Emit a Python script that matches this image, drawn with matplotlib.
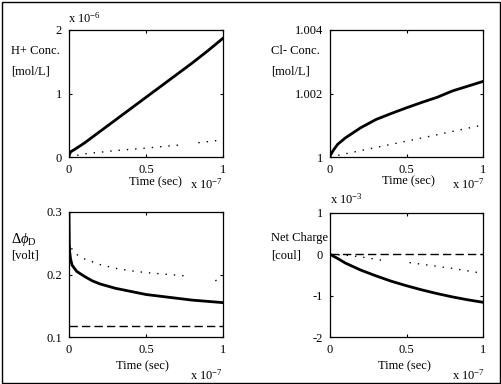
import numpy as np
import matplotlib
matplotlib.use("Agg")
import matplotlib.pyplot as plt
from matplotlib.patches import Rectangle

plt.rcParams["font.family"] = ["Liberation Serif", "DejaVu Serif"]
plt.rcParams["mathtext.fontset"] = "custom"
plt.rcParams["mathtext.rm"] = "Liberation Serif"
plt.rcParams["mathtext.it"] = "Liberation Serif:italic"
plt.rcParams["font.size"] = 9

# time in units of 1e-7 s
t_h = [0, 0.01, 0.05, 0.1, 0.2, 0.3, 0.4, 0.5, 0.6, 0.7, 0.8, 0.9, 1.0]
h_solid = [0.02, 0.08, 0.14, 0.22, 0.40, 0.58, 0.76, 0.94, 1.12, 1.30, 1.48, 1.67, 1.87]  # x 1e-6
t_h_dot = [0, 0.1, 0.3, 0.5, 0.72, 0.78, 0.84, 1.0]
h_dot = [0, 0.05, 0.10, 0.14, 0.19, np.nan, 0.225, 0.27]

t_cl = [0, 0.02, 0.05, 0.1, 0.2, 0.3, 0.4, 0.5, 0.6, 0.7, 0.8, 0.9, 1.0]
cl_solid = [1.00003, 1.0002, 1.0004, 1.0006, 1.00092, 1.00118, 1.00137, 1.00155,
            1.00172, 1.00188, 1.00208, 1.00223, 1.00238]
t_cl_dot = [0, 0.1, 0.3, 0.5, 0.7, 1.0]
cl_dot = [1.0, 1.0001, 1.0003, 1.0005, 1.0007, 1.00101]

t_phi = [0, 0.002, 0.005, 0.01, 0.02, 0.05, 0.1, 0.15, 0.2, 0.3, 0.4, 0.5,
         0.6, 0.7, 0.8, 0.9, 1.0]
phi_solid = [0.30, 0.25, 0.235, 0.225, 0.215, 0.205, 0.197, 0.190, 0.185, 0.178,
             0.173, 0.168, 0.165, 0.162, 0.159, 0.157, 0.155]
t_phi_dot = [0.003, 0.02, 0.05, 0.1, 0.2, 0.3, 0.4, 0.5, 0.6, 0.75, 0.85, 0.95, 1.0]
phi_dot = [0.255, 0.24, 0.232, 0.225, 0.216, 0.21, 0.206, 0.203, 0.201, 0.198,
           np.nan, 0.19, 0.195]
t_phi_dash = [0, 1.0]
phi_dash = [0.118, 0.118]

t_q = [0, 0.05, 0.1, 0.2, 0.3, 0.4, 0.5, 0.6, 0.7, 0.8, 0.9, 1.0]
q_solid = [0, -0.1, -0.21, -0.38, -0.52, -0.65, -0.76, -0.86, -0.95, -1.03, -1.1, -1.16]  # x 1e-3
t_q_dot = [0, 0.05, 0.1, 0.2, 0.3, 0.37, 0.45, 0.52, 0.6, 0.7, 0.8, 0.9, 1.0]
q_dot = [0, -0.01, -0.02, -0.06, -0.12, -0.16, np.nan, -0.2, -0.24, -0.29, -0.34, -0.4, -0.46]
t_q_dash = [0, 1.0]
q_dash = [0, 0]

W, H = 501, 384
fig = plt.figure(figsize=(W / 100, H / 100), dpi=100)


def box(x0, y0, x1, y1):
    return [x0 / W, 1 - y1 / H, (x1 - x0) / W, (y1 - y0) / H]


def txt(x, y, s, **kw):
    fig.text(x / W, 1 - y / H, s, va="center", **kw)


dot = (0, (1, 5))
dash = (0, (6, 3))

panels = [
    (box(69, 30, 223, 157), (0, 2), [0, 1, 2], ["0", "1", "2"]),
    (box(330, 30, 483, 157), (1, 1.004), [1, 1.002, 1.004], ["1", "1.002", "1.004"]),
    (box(69, 212, 223, 337), (0.1, 0.3), [0.1, 0.2, 0.3], ["0.1", "0.2", "0.3"]),
    (box(330, 213, 483, 337), (-2, 1), [-2, -1, 0, 1], ["-2", "-1", "0", "1"]),
]
axes = []
for rect, ylim, yt, ytl in panels:
    ax = fig.add_axes(rect)
    ax.set_xlim(0, 1)
    ax.set_ylim(*ylim)
    ax.set_xticks([0, 0.5, 1])
    ax.set_xticklabels(["0", "0.5", "1"])
    ax.set_yticks(yt)
    ax.set_yticklabels(ytl)
    ax.tick_params(direction="in", top=True, right=True, length=2.5, width=0.8, pad=5)
    for sp in ax.spines.values():
        sp.set_linewidth(0.9)
    axes.append(ax)

a1, a2, a3, a4 = axes
a1.plot(t_h, h_solid, color="black", lw=2)
a1.plot(t_h_dot, h_dot, color="black", lw=1, ls=dot)

a2.plot(t_cl, cl_solid, color="black", lw=2)
a2.plot(t_cl_dot, cl_dot, color="black", lw=1, ls=dot)

a3.plot(t_phi, phi_solid, color="black", lw=2)
a3.plot(t_phi_dot, phi_dot, color="black", lw=1, ls=dot)
a3.plot(t_phi_dash, phi_dash, color="black", lw=1, ls=dash)

a4.plot(t_q, q_solid, color="black", lw=2)
a4.plot(t_q_dot, q_dot, color="black", lw=1, ls=dot)
a4.plot(t_q_dash, q_dash, color="black", lw=1, ls=dash)

# labels
txt(11, 51, "H+ Conc.")
txt(11, 71, "[mol/L]")
txt(271, 51, "Cl- Conc.")
txt(271, 71, "[mol/L]")
txt(11, 239, r"$\Delta\phi_{\rm D}$", fontsize=10.5)
txt(11, 256, "[volt]")
txt(271, 238, "Net Charge")
txt(271, 256, "[coul]")

txt(68, 18, r"x 10$^{-6}$")
txt(330, 199, r"x 10$^{-3}$")

txt(155, 182, "Time (sec)", ha="center")
txt(408, 181, "Time (sec)", ha="center")
txt(142, 366, "Time (sec)", ha="center")
txt(404, 366, "Time (sec)", ha="center")

txt(223, 184, r"x 10$^{-7}$", ha="right")
txt(485, 184, r"x 10$^{-7}$", ha="right")
txt(223, 375, r"x 10$^{-7}$", ha="right")
txt(485, 375, r"x 10$^{-7}$", ha="right")

fig.patches.append(Rectangle((1.5 / W, 1 - 382.5 / H), 498 / W, 381 / H,
                             transform=fig.transFigure, fill=False,
                             edgecolor="black", lw=1))

fig.savefig("out.png", dpi=100)
